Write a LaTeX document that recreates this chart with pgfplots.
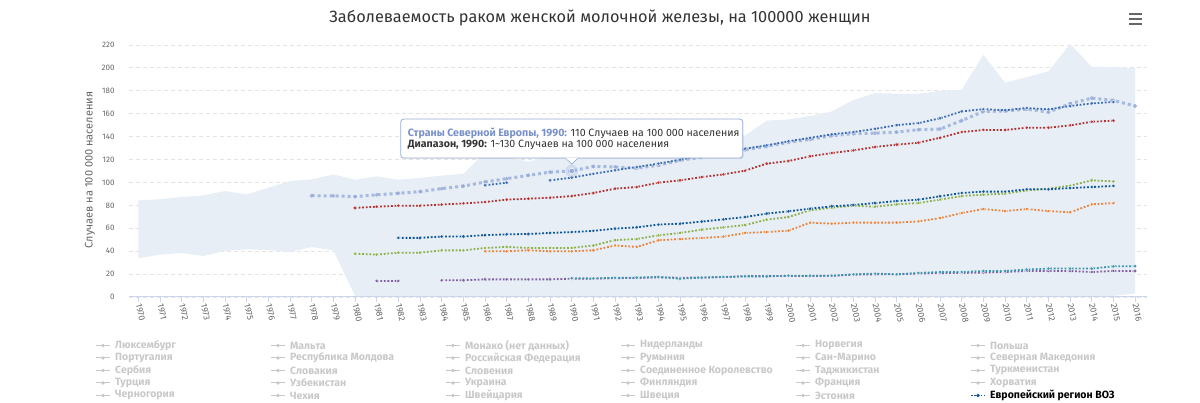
\documentclass[border=0pt]{standalone}
\usepackage{fontspec}
\setmainfont{Fira Sans}
\usepackage{pgfplots}
\pgfplotsset{compat=1.18}
\usepgfplotslibrary{fillbetween}
\definecolor{areac}{RGB}{232,238,246}
\definecolor{gridc}{RGB}{228,228,228}
\definecolor{axisc}{RGB}{204,214,235}
\definecolor{labc}{RGB}{102,102,102}
\definecolor{titc}{RGB}{51,51,51}
\definecolor{legc}{RGB}{200,200,200}
\definecolor{cnorth}{RGB}{150,172,218}
\definecolor{cnorthT}{RGB}{120,145,200}
\definecolor{cmblue}{RGB}{58,108,178}
\definecolor{cred}{RGB}{178,50,50}
\definecolor{cdblue}{RGB}{12,85,150}
\definecolor{cgreen}{RGB}{138,176,74}
\definecolor{corange}{RGB}{234,130,58}
\definecolor{cteal}{RGB}{58,150,175}
\definecolor{cpurple}{RGB}{128,96,160}
\pgfplotsset{ser/.style={color=#1, line width=1.8pt, dash pattern=on 1.8pt off 1.8pt, mark=*, mark size=1.9pt, mark options={solid, fill=#1, draw=white, line width=0.3pt}}}
\begin{document}
\begin{tikzpicture}[x=1pt,y=1pt]
\path (0,0) rectangle (1200,403);
\node[font=\fontsize{16.3}{19}\selectfont, text=titc] at (600,385) {Заболеваемость раком женской молочной железы, на 100000 женщин};
\draw[labc, line width=2pt] (1129,389) -- (1142,389) (1129,384) -- (1142,384) (1129,379) -- (1142,379);
\node[rotate=90, font=\fontsize{11}{13}\selectfont, text=labc] at (90,233) {Случаев на 100 000 населения};
\begin{axis}[
 at={(129pt,106pt)}, anchor=south west,
 scale only axis, width=1017.8pt, height=254.3pt,
 xmin=1969.57, xmax=2016.54, ymin=0, ymax=222,
 axis x line*=bottom, axis y line*=left,
 y axis line style={draw=none},
 x axis line style={axisc, line width=1pt},
 xtick={1970,...,2016}, ytick={0,20,...,220},
 tick align=outside, major tick length=5pt,
 xtick style={axisc, line width=0.8pt},
 ytick style={draw=none},
 ymajorgrids, grid style={gridc, line width=0.8pt, dash pattern=on 4pt off 3pt},
 xticklabel style={rotate=-78, anchor=west, font=\fontsize{8.8}{9}\selectfont, text=labc, xshift=-1.5pt},
 yticklabel style={font=\fontsize{8}{9}\selectfont, text=labc, xshift=-6pt},
 /pgf/number format/assume math mode=true, /pgf/number format/1000 sep={},
 unbounded coords=jump, clip=true
]
\addplot[draw=none, no marks, name path=up, forget plot] coordinates {(1970,84.4)(1971,85.3)(1972,87.3)(1973,88.7)(1974,92.5)(1975,89.6)(1976,95.4)(1977,101.2)(1978,102.7)(1979,107)(1980,102.4)(1981,105.3)(1982,102.4)(1983,104)(1984,106)(1985,107.6)(1986,126)(1987,123)(1988,118)(1989,124)(1990,130)(1991,131)(1992,133)(1993,134)(1994,136)(1995,137)(1996,138)(1997,140)(1998,141)(1999,154)(2000,155)(2001,158)(2002,162)(2003,172)(2004,178)(2005,177.5)(2006,177.5)(2007,180)(2008,181)(2009,211.5)(2010,187)(2011,192)(2012,197)(2013,221)(2014,201)(2015,200.7)(2016,199.8)};
\addplot[draw=none, no marks, name path=lo, forget plot] coordinates {(1970,33.8)(1971,37)(1972,38.4)(1973,35.8)(1974,40.2)(1975,41.6)(1976,41)(1977,39.3)(1978,43.6)(1979,40.7)(1980,1)(1985,1)(1990,1)(1995,1)(2000,1)(2005,1)(2010,1)(2015,1)(2016,3)};
\addplot[areac, draw=none] fill between[of=up and lo];
\addplot[color=cnorth, opacity=0.8, line width=3pt, dash pattern=on 3pt off 3pt, mark=*, mark size=1.7pt, mark options={solid, fill=cnorth, draw=cnorth, line width=0.4pt}] coordinates {(1978,88.4)(1979,88.3)(1980,87.6)(1981,89.2)(1982,90.5)(1983,92)(1984,94.6)(1985,96.8)(1986,100.4)(1987,103.3)(1988,106.2)(1989,109)(1990,110)(1991,114)(1992,113.5)(1993,112.5)(1994,115)(1995,119.3)(1996,122)(1997,125)(1998,128.5)(1999,131.5)(2000,135)(2001,137.6)(2002,140.8)(2003,142.6)(2004,143)(2005,144)(2006,146)(2007,146.6)(2008,154)(2009,162)(2010,162.3)(2011,164)(2012,161.4)(2013,168.7)(2014,173.6)(2015,171.6)(2016,166.7)};
\addplot[ser=cmblue] coordinates {(1986,97.5)(1987,99.8)(1988,nan)(1989,101.8)(1990,104.2)(1991,107.5)(1992,110.6)(1993,113.5)(1994,116.4)(1995,119.9)(1996,123.6)(1997,126.5)(1998,129.5)(1999,132.4)(2000,135.9)(2001,139)(2002,142)(2003,144)(2004,146.8)(2005,150)(2006,151.8)(2007,156)(2008,162)(2009,164)(2010,163)(2011,165)(2012,163.8)(2013,166.7)(2014,169)(2015,170.2)};
\addplot[ser=cred] coordinates {(1980,77.8)(1981,78.8)(1982,79.7)(1983,79.7)(1984,80.7)(1985,81.7)(1986,82.9)(1987,85)(1988,85.8)(1989,86.7)(1990,88.1)(1991,90.8)(1992,94.6)(1993,96)(1994,99.8)(1995,101.8)(1996,104.7)(1997,107)(1998,110.3)(1999,116.4)(2000,118.7)(2001,122.8)(2002,125.7)(2003,128)(2004,131)(2005,133)(2006,134.7)(2007,139)(2008,144)(2009,145.8)(2010,145.8)(2011,147.8)(2012,147.8)(2013,149.8)(2014,153)(2015,153.9)};
\addplot[ser=cgreen] coordinates {(1980,37.8)(1981,37)(1982,38.7)(1983,38.7)(1984,40.7)(1985,40.7)(1986,42.8)(1987,43.7)(1988,42.8)(1989,42.8)(1990,42.8)(1991,45)(1992,49.7)(1993,50.6)(1994,53.8)(1995,55.9)(1996,58.8)(1997,60.8)(1998,62.8)(1999,67.5)(2000,69.8)(2001,75.7)(2002,78)(2003,79.7)(2004,78.8)(2005,80.9)(2006,82)(2007,85)(2008,88.1)(2009,89.3)(2010,90.2)(2011,93.1)(2012,94.6)(2013,97.2)(2014,101.8)(2015,101)};
\addplot[ser=corange] coordinates {(1986,39.9)(1987,39.9)(1988,40.8)(1989,39.9)(1990,39.9)(1991,40.8)(1992,45)(1993,43.7)(1994,49.5)(1995,50.6)(1996,51.5)(1997,52.7)(1998,55.9)(1999,56.7)(2000,57.9)(2001,64.9)(2002,64)(2003,64.9)(2004,64.9)(2005,64.9)(2006,66)(2007,68.9)(2008,73.3)(2009,76.8)(2010,75)(2011,76.8)(2012,75)(2013,73.9)(2014,80.9)(2015,82)};
\addplot[ser=cpurple] coordinates {(1981,14)(1982,14)(1983,nan)(1984,14.6)(1985,14.6)(1986,15.4)(1987,15.4)(1988,15.4)(1989,15.4)(1990,16)(1991,16)(1992,16.4)(1993,16.6)(1994,17.2)(1995,16.8)(1996,17)(1997,17.3)(1998,18.2)(1999,18.2)(2000,18.4)(2001,18.4)(2002,18.5)(2003,19.5)(2004,19.8)(2005,19.8)(2006,20.5)(2007,20.8)(2008,21)(2009,21.3)(2010,21.8)(2011,22.7)(2012,22.7)(2013,22.7)(2014,21.8)(2015,22.7)(2016,22.7)};
\addplot[ser=cteal] coordinates {(1990,16.4)(1991,16.2)(1992,16.8)(1993,16.9)(1994,17.5)(1995,16)(1996,16.9)(1997,17.5)(1998,18)(1999,18)(2000,18.6)(2001,18.6)(2002,18.6)(2003,19.8)(2004,20.4)(2005,19.8)(2006,21)(2007,21.8)(2008,21.8)(2009,22.7)(2010,22.7)(2011,23.9)(2012,24.8)(2013,24.8)(2014,24.8)(2015,26.8)(2016,26.9)};
\addplot[ser=cdblue] coordinates {(1982,51.6)(1983,51.6)(1984,52.8)(1985,52.8)(1986,54)(1987,54.7)(1988,55)(1989,55.9)(1990,56.7)(1991,57.7)(1992,59.7)(1993,60.8)(1994,63.2)(1995,64)(1996,65.8)(1997,67.8)(1998,69.8)(1999,72.8)(2000,74.8)(2001,77.1)(2002,79.1)(2003,80.3)(2004,82)(2005,83.8)(2006,85)(2007,87.9)(2008,90.8)(2009,92)(2010,92)(2011,94)(2012,94)(2013,95.1)(2014,96)(2015,96.9)};
\addplot[only marks, mark=*, mark size=6pt, color=cnorth, opacity=0.25] coordinates {(1990,110)};
\addplot[only marks, mark=*, mark size=2.8pt, color=cnorth, mark options={draw=white, line width=0.5pt}] coordinates {(1990,110)};
\coordinate (p) at (axis cs:1990,110);
\end{axis}
% tooltip
\fill[black, opacity=0.07, rounded corners=3pt] ([xshift=-170pt,yshift=11.9pt]p) -- ([xshift=-170pt,yshift=50.9pt]p) -- ([xshift=172pt,yshift=50.9pt]p) -- ([xshift=172pt,yshift=11.9pt]p) -- cycle;
\draw[fill=white, draw=cnorth, line width=0.8pt, rounded corners=3pt] ([xshift=-171pt,yshift=12.9pt]p) -- ([xshift=-171pt,yshift=51.9pt]p) -- ([xshift=171pt,yshift=51.9pt]p) -- ([xshift=171pt,yshift=12.9pt]p) -- cycle;
\draw[fill=white, draw=cnorth, line width=0.8pt] ([xshift=6pt,yshift=12.9pt]p) -- ([yshift=7pt]p) -- ([xshift=-6pt,yshift=12.9pt]p);
\fill[white] ([xshift=6pt,yshift=13.3pt]p) -- ([yshift=7.8pt]p) -- ([xshift=-6pt,yshift=13.3pt]p) -- cycle;
\node[anchor=base west, inner sep=0pt, font=\fontsize{10.6}{12}\selectfont, text=titc] at ([xshift=-164pt,yshift=34.6pt]p) {\textcolor{cnorthT}{\bfseries Страны Северной Европы, 1990:} 110 Случаев на 100 000 населения};
\node[anchor=base west, inner sep=0pt, font=\fontsize{10.6}{12}\selectfont, text=titc] at ([xshift=-164pt,yshift=23.6pt]p) {{\bfseries Диапазон, 1990:} 1\textasciitilde130 Случаев на 100 000 населения};
% legend
\foreach \nm [count=\i from 0] in {Люксембург,Мальта,Монако (нет данных),Нидерланды,Норвегия,Польша,Португалия,Республика Молдова,Российская Федерация,Румыния,Сан-Марино,Северная Македония,Сербия,Словакия,Словения,Соединенное Королевство,Таджикистан,Туркменистан,Турция,Узбекистан,Украина,Финляндия,Франция,Хорватия,Черногория,Чехия,Швейцария,Швеция,Эстония}{
 \pgfmathtruncatemacro\col{mod(\i,6)}
 \pgfmathtruncatemacro\row{div(\i,6)}
 \pgfmathsetmacro\lx{115+175*\col}
 \pgfmathsetmacro\ly{403-345.5-12.5*\row}
 \draw[legc, line width=1pt] (\lx-19,\ly) -- (\lx-5,\ly);
 \fill[legc] (\lx-12,\ly) circle (1.8pt);
 \node[anchor=west, inner sep=0pt, font=\fontsize{10.5}{12}\selectfont\bfseries, text=legc] at (\lx,\ly) {\nm};
}
\draw[cdblue, line width=1.6pt, dash pattern=on 1.6pt off 1.6pt] (971,7.5) -- (985,7.5);
\fill[cdblue] (978,7.5) circle (1.9pt);
\node[anchor=west, inner sep=0pt, font=\fontsize{10.5}{12}\selectfont\bfseries, text=black] at (990,7.5) {Европейский регион ВОЗ};
\end{tikzpicture}
\end{document}
